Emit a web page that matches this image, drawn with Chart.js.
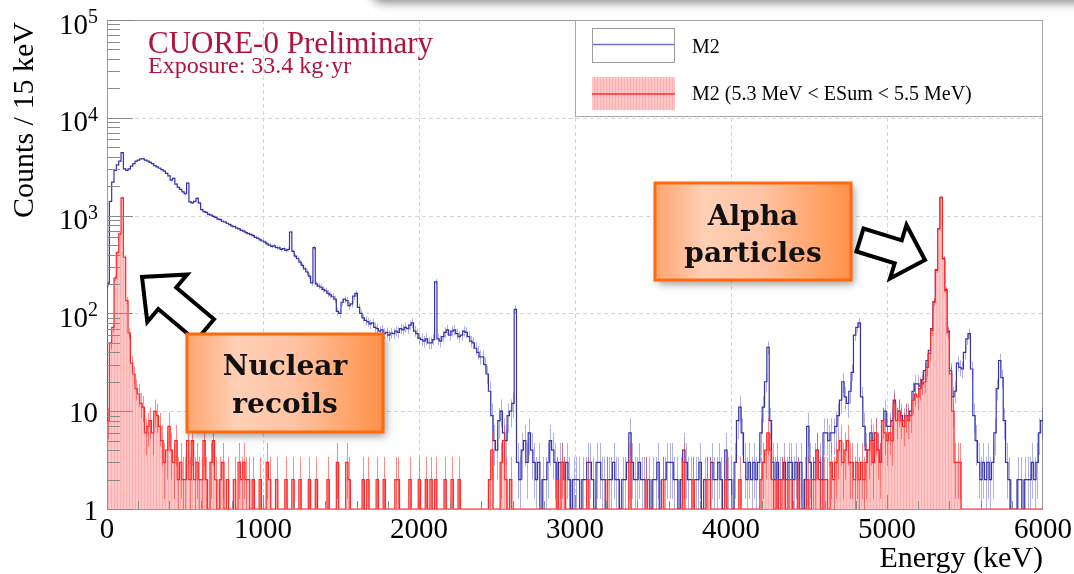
<!DOCTYPE html>
<html>
<head>
<meta charset="utf-8">
<title>CUORE-0 M2 spectrum</title>
<script src="https://cdn.jsdelivr.net/npm/chart.js@4.4.1/dist/chart.umd.min.js"></script>
<style>
  html, body { margin: 0; padding: 0; background: #fff; }
  #spectrum { display: block; }
</style>
</head>
<body>
<canvas id="spectrum" width="1074" height="574"></canvas>
<script>
// ============================================
// CUORE-0 multiplicity-2 energy spectrum
// Two step histograms on a log axis: all M2 events
// and the subset with a 5.3–5.5 MeV energy sum.
// ============================================

const BIN_KEV = 15;                 // bin width, keV
const X_MIN = 0, X_MAX = 6000;
const Y_MIN = 1, Y_MAX = 100000;
const X_TICKS = [0, 1000, 2000, 3000, 4000, 5000, 6000];
const Y_DECADES = [1, 10, 100, 1000, 10000, 100000];
const SERIES_LABELS = ['M2', 'M2 (5.3 MeV < ESum < 5.5 MeV)'];

// counts per 15 keV bin, one row = 300 keV
const M2_COUNTS = [
  200, 1400, 2200, 2900, 3300, 3600, 4400, 3000, 2900, 3000, 3200, 3400, 3600, 3700, 3800, 3800, 3700, 3600, 3500, 3400, // 0
  3250, 3150, 3050, 2950, 2850, 2700, 2550, 2300, 2400, 2100, 1950, 1850, 1750, 1680, 2150, 1380, 1350, 1400, 1500, 1350, // 300
  1150, 1100, 1080, 1030, 1010, 980, 960, 920, 910, 870, 860, 830, 810, 780, 770, 745, 730, 705, 695, 670,                // 600
  655, 640, 625, 600, 585, 565, 550, 535, 515, 500, 485, 492, 470, 468, 452, 460, 442, 450, 680, 430,                     // 900
  385, 362, 335, 310, 285, 265, 240, 205, 470, 200, 190, 185, 176, 170, 160, 155, 148, 140, 105, 100,                     // 1200
  130, 140, 135, 120, 125, 150, 160, 115, 100, 90, 85, 82, 78, 80, 72, 70, 66, 68, 62, 64,                                // 1500
  60, 63, 62, 66, 64, 70, 68, 72, 70, 76, 80, 66, 62, 56, 54, 52, 55, 50, 50, 54,                                         // 1800
  210, 55, 52, 58, 64, 68, 60, 66, 68, 62, 58, 60, 66, 64, 58, 52, 50, 44, 40, 36,                                        // 2100
  36, 30, 24, 16, 9, 5, 4, 8, 10, 6, 5, 9, 10, 12, 110, 3, 2, 4, 5, 3,                                                    // 2400
  6, 4, 3, 2, 3, 1, 2, 2, 3, 5, 4, 3, 2, 3, 3, 2, 3, 2, 1, 2,                                                             // 2700
  2, 2, 1, 2, 2, 3, 3, 2, 1, 3, 3, 2, 2, 2, 2, 2, 3, 2, 2, 1,                                                             // 3000
  2, 2, 3, 6, 3, 2, 2, 3, 2, 2, 2, 2, 1, 2, 2, 3, 1, 2, 2, 3,                                                             // 3300
  3, 3, 2, 2, 1, 2, 4, 3, 2, 2, 2, 2, 2, 3, 1, 2, 2, 2, 3, 2,                                                             // 3600
  2, 3, 2, 1, 4, 2, 2, 1, 3, 8, 11, 6, 3, 2, 3, 2, 3, 2, 3, 6,                                                            // 3900
  11, 20, 45, 8, 3, 2, 3, 2, 2, 3, 2, 3, 3, 2, 3, 2, 3, 1, 2, 7,                                                          // 4200
  3, 2, 3, 4, 3, 2, 6, 6, 5, 6, 6, 7, 9, 13, 20, 14, 12, 16, 25, 60,                                                      // 4500
  72, 80, 14, 7, 4, 4, 6, 5, 6, 4, 3, 8, 10, 7, 7, 8, 13, 8, 10, 9,                                                       // 4800
  8, 9, 9, 10, 16, 19, 19, 18, 21, 26, 33, 42, 70, 132, 280, 735, 1540, 365, 175, 66,                                     // 5100
  26, 14, 16, 31, 28, 27, 40, 55, 62, 27, 9, 5, 3, 2, 3, 2, 3, 2, 3, 6,                                                   // 5400
  17, 33, 22, 8, 3, 2, 1, 0, 1, 2, 2, 1, 2, 2, 2, 3, 2, 3, 6, 8                                                           // 5700
];

const ESUM_COUNTS = [
  8, 50, 72, 230, 420, 650, 1520, 375, 135, 63, 31, 24, 17, 15, 12, 11, 6, 7, 8, 6, // 0
  10, 9, 7, 5, 3, 4, 7, 4, 3, 5, 2, 3, 2, 2, 5, 2, 5, 2, 3, 2,                      // 300
  2, 5, 2, 0, 3, 5, 2, 0, 2, 3, 0, 2, 0, 0, 2, 0, 3, 2, 3, 2,                       // 600
  2, 0, 2, 0, 0, 2, 0, 0, 3, 2, 0, 0, 2, 0, 0, 0, 2, 0, 0, 2,                       // 900
  0, 0, 2, 0, 0, 0, 2, 0, 0, 2, 0, 0, 0, 0, 2, 0, 0, 0, 3, 0,                       // 1200
  0, 0, 3, 2, 0, 0, 0, 0, 0, 2, 0, 2, 0, 0, 0, 2, 0, 0, 2, 0,                       // 1500
  0, 0, 0, 2, 2, 0, 0, 0, 0, 2, 0, 0, 0, 2, 0, 0, 2, 0, 2, 0,                       // 1800
  2, 0, 0, 0, 2, 0, 0, 2, 0, 0, 2, 0, 0, 0, 0, 0, 0, 0, 0, 0,                       // 2100
  0, 0, 0, 2, 4, 0, 0, 0, 3, 5, 2, 0, 2, 0, 0, 0, 0, 0, 0, 0,                       // 2400
  0, 0, 0, 0, 0, 0, 0, 0, 0, 0, 0, 0, 2, 0, 3, 2, 0, 0, 0, 0,                       // 2700
  0, 0, 0, 0, 0, 2, 0, 0, 0, 0, 0, 0, 0, 2, 0, 0, 0, 0, 0, 0,                       // 3000
  0, 0, 0, 3, 0, 0, 0, 0, 0, 0, 2, 0, 0, 0, 0, 0, 0, 2, 0, 0,                       // 3300
  0, 0, 0, 0, 0, 0, 3, 0, 0, 0, 2, 0, 0, 0, 0, 0, 2, 2, 0, 0,                       // 3600
  0, 0, 0, 0, 2, 0, 0, 0, 0, 0, 2, 0, 0, 0, 0, 0, 0, 0, 0, 2,                       // 3900
  3, 4, 6, 4, 2, 0, 2, 0, 2, 2, 0, 2, 2, 0, 0, 2, 0, 0, 0, 2,                       // 4200
  0, 2, 2, 4, 2, 0, 2, 2, 0, 3, 2, 3, 4, 5, 3, 4, 5, 3, 3, 2,                       // 4500
  3, 2, 3, 2, 3, 4, 5, 3, 6, 4, 3, 8, 6, 5, 6, 5, 12, 8, 10, 8,                     // 4800
  7, 9, 8, 9, 13, 15, 14, 17, 19, 20, 28, 39, 67, 130, 275, 730, 1530, 360, 170, 63, // 5100
  24, 10, 3, 3, 3, 0, 0, 0, 0, 0, 0, 0, 0, 0, 0, 0, 0, 0, 0, 0,                     // 5400
  0, 0, 0, 0, 0, 0, 0, 0, 0, 0, 0, 0, 0, 0, 0, 0, 0, 0, 0, 0                        // 5700
];

const SERIF = '"Liberation Serif", "Times New Roman", serif';
const BOLD_SERIF = '"DejaVu Serif", "Liberation Serif", serif';
const BLUE = '#3434a8';
const BLUE_ERR = 'rgba(80, 80, 200, 0.45)';
const RED = '#ff2626';
const RED_ERR = 'rgba(255, 40, 40, 0.55)';
const CRIMSON = '#b0143c';
const AXIS_GREY = '#9a9a9a';
const GRID_GREY = '#d6d6d6';

const canvas = document.getElementById('spectrum');
const ctx0 = canvas.getContext('2d');

// fine vertical hatching used for the ESum fill
function hatchPattern() {
  const tile = document.createElement('canvas');
  tile.width = 3; tile.height = 3;
  const g = tile.getContext('2d');
  g.fillStyle = '#ffc8c8';
  g.fillRect(0, 0, 3, 3);
  g.fillStyle = '#ffacac';
  g.fillRect(0, 0, 1, 3);
  return ctx0.createPattern(tile, 'repeat');
}
const HATCH = hatchPattern();

// outline starts on the axis floor, then one point per left bin edge
// plus the closing edge; empty bins sit on the floor
function toSteps(counts) {
  const pts = [{ x: X_MIN, y: Y_MIN }];
  counts.forEach((c, i) => pts.push({ x: i * BIN_KEV, y: Math.max(c, Y_MIN) }));
  pts.push({ x: counts.length * BIN_KEV, y: Math.max(counts[counts.length - 1], Y_MIN) });
  return pts;
}

function drawErrors(chart, counts, color) {
  const { ctx, chartArea: a, scales: { x, y } } = chart;
  ctx.save();
  ctx.beginPath();
  ctx.rect(a.left, a.top, a.right - a.left, a.bottom - a.top);
  ctx.clip();
  ctx.strokeStyle = color;
  ctx.lineWidth = 1;
  ctx.beginPath();
  counts.forEach((c, i) => {
    if (c <= 0) return;
    const px = Math.round(x.getPixelForValue((i + 0.5) * BIN_KEV)) + 0.5;
    const err = Math.sqrt(c);
    ctx.moveTo(px, y.getPixelForValue(Math.max(c - err, Y_MIN)));
    ctx.lineTo(px, y.getPixelForValue(c + err));
  });
  ctx.stroke();
  ctx.restore();
}

function blockArrow(ctx, tail, tip, headLen, headHalf, shaftHalf) {
  const dx = tip[0] - tail[0], dy = tip[1] - tail[1];
  const len = Math.hypot(dx, dy);
  const ux = dx / len, uy = dy / len, nx = -uy, ny = ux;
  const bx = tip[0] - ux * headLen, by = tip[1] - uy * headLen;
  const pts = [
    [tail[0] + nx * shaftHalf, tail[1] + ny * shaftHalf],
    [bx + nx * shaftHalf, by + ny * shaftHalf],
    [bx + nx * headHalf, by + ny * headHalf],
    tip,
    [bx - nx * headHalf, by - ny * headHalf],
    [bx - nx * shaftHalf, by - ny * shaftHalf],
    [tail[0] - nx * shaftHalf, tail[1] - ny * shaftHalf],
  ];
  ctx.beginPath();
  pts.forEach((p, i) => (i ? ctx.lineTo(p[0], p[1]) : ctx.moveTo(p[0], p[1])));
  ctx.closePath();
  ctx.fillStyle = '#fff';
  ctx.fill();
  ctx.lineWidth = 4;
  ctx.lineJoin = 'miter';
  ctx.strokeStyle = '#000';
  ctx.stroke();
}

function noteBox(ctx, x0, y0, w, h, lines, baselines) {
  ctx.save();
  const grad = ctx.createLinearGradient(x0, 0, x0 + w, 0);
  grad.addColorStop(0, '#ffa46e');
  grad.addColorStop(0.25, '#ffd0b6');
  grad.addColorStop(0.55, '#ffc3a3');
  grad.addColorStop(1, '#ff9148');
  ctx.shadowColor = 'rgba(0, 0, 0, 0.4)';
  ctx.shadowBlur = 8;
  ctx.shadowOffsetX = 3;
  ctx.shadowOffsetY = 4;
  ctx.fillStyle = grad;
  ctx.fillRect(x0, y0, w, h);
  ctx.restore();
  ctx.save();
  ctx.strokeStyle = '#ff6a0e';
  ctx.lineWidth = 3;
  ctx.strokeRect(x0, y0, w, h);
  ctx.fillStyle = '#111';
  ctx.font = `bold 28px ${BOLD_SERIF}`;
  ctx.textAlign = 'center';
  ctx.textBaseline = 'alphabetic';
  lines.forEach((t, i) => ctx.fillText(t, x0 + w / 2, baselines[i]));
  ctx.restore();
}

// ── frame, grid, axes, legend and notes ──
const decorations = {
  id: 'decorations',
  beforeDraw(chart) {
    const { ctx, width, height } = chart;
    ctx.save();
    ctx.fillStyle = '#fff';
    ctx.fillRect(0, 0, width, height);
    // shadow of the panel sitting above the plot
    ctx.shadowColor = 'rgba(0, 0, 0, 0.45)';
    ctx.shadowBlur = 10;
    ctx.shadowOffsetY = 3;
    ctx.beginPath();
    ctx.roundRect(372, -40, 760, 40, 10);
    ctx.fill();
    ctx.restore();
  },
  beforeDatasetsDraw(chart) {
    const { ctx, chartArea: a, scales: { x, y } } = chart;
    ctx.save();
    ctx.strokeStyle = GRID_GREY;
    ctx.lineWidth = 1;
    ctx.setLineDash([4, 3]);
    ctx.beginPath();
    X_TICKS.slice(1, -1).forEach(v => {
      const px = Math.round(x.getPixelForValue(v)) + 0.5;
      ctx.moveTo(px, a.top); ctx.lineTo(px, a.bottom);
    });
    Y_DECADES.slice(1, -1).forEach(v => {
      const py = Math.round(y.getPixelForValue(v)) + 0.5;
      ctx.moveTo(a.left, py); ctx.lineTo(a.right, py);
    });
    ctx.stroke();
    ctx.setLineDash([]);
    ctx.strokeStyle = AXIS_GREY;
    ctx.strokeRect(a.left + 0.5, a.top + 0.5, a.right - a.left - 1, a.bottom - a.top);
    ctx.restore();
    drawErrors(chart, M2_COUNTS, BLUE_ERR);
  },
  afterDatasetsDraw(chart) {
    drawErrors(chart, ESUM_COUNTS, RED_ERR);
  },
  afterDraw(chart) {
    const { ctx, chartArea: a, scales: { x, y } } = chart;
    ctx.save();

    // tick marks
    ctx.strokeStyle = '#8a8a8a';
    ctx.lineWidth = 1;
    ctx.beginPath();
    Y_DECADES.forEach((d, di) => {
      const py = Math.round(y.getPixelForValue(d)) + 0.5;
      ctx.moveTo(a.left, py); ctx.lineTo(a.left + 26, py);
      if (di === Y_DECADES.length - 1) return;
      for (let k = 2; k <= 9; k++) {
        const pm = Math.round(y.getPixelForValue(d * k)) + 0.5;
        ctx.moveTo(a.left, pm); ctx.lineTo(a.left + 13, pm);
      }
    });
    for (let e = X_MIN + 200; e < X_MAX; e += 200) {
      const px = Math.round(x.getPixelForValue(e)) + 0.5;
      const len = e % 1000 === 0 ? 14 : 8;
      ctx.moveTo(px, a.bottom); ctx.lineTo(px, a.bottom - len);
    }
    ctx.stroke();

    // tick labels
    ctx.fillStyle = '#000';
    ctx.textBaseline = 'alphabetic';
    ctx.textAlign = 'center';
    ctx.font = `29px ${SERIF}`;
    X_TICKS.forEach(v => ctx.fillText(String(v), x.getPixelForValue(v), 538));

    const labelRight = a.left - 9;
    Y_DECADES.forEach(v => {
      const py = y.getPixelForValue(v);
      const exp = Math.round(Math.log10(v));
      ctx.textAlign = 'right';
      if (exp <= 1) {
        ctx.font = `29px ${SERIF}`;
        ctx.fillText(String(v), labelRight, py + 11);
      } else {
        ctx.font = `20px ${SERIF}`;
        const supW = ctx.measureText(String(exp)).width;
        ctx.fillText(String(exp), labelRight, py + 3);
        ctx.font = `29px ${SERIF}`;
        ctx.fillText('10', labelRight - supW, py + 13.5);
      }
    });

    // axis titles
    ctx.font = `30px ${SERIF}`;
    ctx.textAlign = 'right';
    ctx.fillText('Energy (keV)', a.right, 567);
    ctx.save();
    ctx.translate(33, 120);
    ctx.rotate(-Math.PI / 2);
    ctx.textAlign = 'center';
    ctx.fillText('Counts / 15 keV', 0, 0);
    ctx.restore();

    // experiment label
    ctx.fillStyle = CRIMSON;
    ctx.textAlign = 'left';
    ctx.font = `31px ${SERIF}`;
    ctx.fillText('CUORE-0 Preliminary', 148, 53);
    ctx.font = `24px ${SERIF}`;
    ctx.fillText('Exposure: 33.4 kg\u00b7yr', 148, 73);

    // legend
    const lx = x.getPixelForValue(3000);
    ctx.fillStyle = '#fff';
    ctx.fillRect(lx, a.top, a.right - lx, 97);
    ctx.strokeStyle = '#a6a6a6';
    ctx.strokeRect(Math.round(lx) + 0.5, a.top + 0.5, a.right - lx - 1, 96);
    ctx.strokeStyle = '#9c9c9c';
    ctx.strokeRect(592.5, 28.5, 82, 34);
    ctx.strokeStyle = '#7070cc';
    ctx.lineWidth = 1.5;
    ctx.beginPath(); ctx.moveTo(593, 44.5); ctx.lineTo(674, 44.5); ctx.stroke();
    ctx.fillStyle = HATCH;
    ctx.fillRect(592, 77, 83, 33);
    ctx.strokeStyle = '#ff5050';
    ctx.lineWidth = 2;
    ctx.beginPath(); ctx.moveTo(592, 94); ctx.lineTo(675, 94); ctx.stroke();
    ctx.fillStyle = '#000';
    ctx.font = `20px ${SERIF}`;
    ctx.fillText(SERIES_LABELS[0], 692, 53);
    ctx.fillText(SERIES_LABELS[1], 692, 100);
    ctx.restore();

    // callouts
    ctx.save();
    blockArrow(ctx, [205, 330], [142, 277], 33, 31, 14);
    blockArrow(ctx, [860, 240], [925, 260], 28, 28, 12);
    noteBox(ctx, 187, 334, 196, 98, ['Nuclear', 'recoils'], [375, 413]);
    noteBox(ctx, 655, 183, 196, 97, ['Alpha', 'particles'], [225, 262]);
    ctx.restore();
  }
};

new Chart(canvas, {
  type: 'line',
  data: {
    datasets: [
      {
        label: SERIES_LABELS[1],
        data: toSteps(ESUM_COUNTS),
        stepped: true,
        borderColor: RED,
        borderWidth: 1.2,
        backgroundColor: HATCH,
        fill: 'start',
        pointRadius: 0,
        order: 0,
      },
      {
        label: SERIES_LABELS[0],
        data: toSteps(M2_COUNTS),
        stepped: true,
        borderColor: BLUE,
        borderWidth: 1.2,
        fill: false,
        pointRadius: 0,
        order: 1,
      },
    ],
  },
  options: {
    responsive: false,
    animation: false,
    devicePixelRatio: 1,
    events: [],
    layout: { padding: { left: 107, right: 31, top: 20, bottom: 65 } },
    scales: {
      x: { type: 'linear', min: X_MIN, max: X_MAX, display: false },
      y: { type: 'logarithmic', min: Y_MIN, max: Y_MAX, display: false },
    },
    plugins: {
      legend: { display: false },
      tooltip: { enabled: false },
    },
  },
  plugins: [decorations],
});
</script>
</body>
</html>
